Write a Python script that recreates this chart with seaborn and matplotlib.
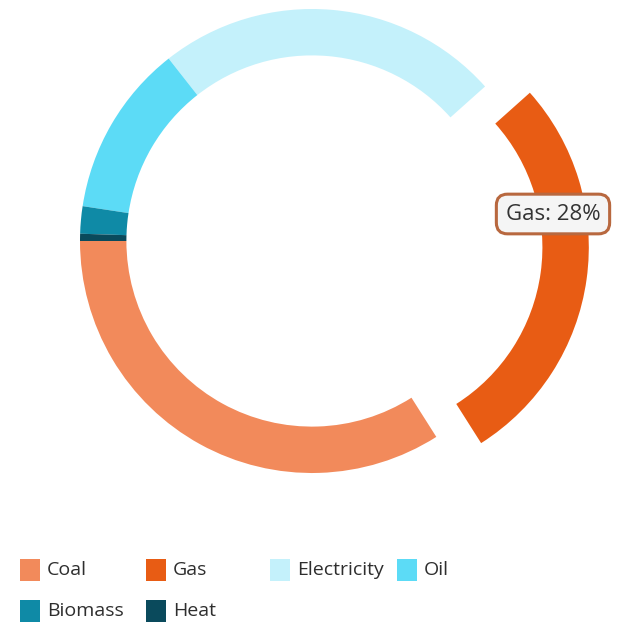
import matplotlib
matplotlib.use("Agg")
import matplotlib.pyplot as plt
from matplotlib.patches import Rectangle
import seaborn as sns

sns.set_style("white")
plt.rcParams["font.family"] = ["Open Sans", "DejaVu Sans"]

# ── data ────────────────────────────────────────────────────────────────────
labels = ["Coal", "Gas", "Electricity", "Oil", "Biomass", "Heat"]
shares = [34, 27.6, 24, 12, 1.9, 0.5]
colors = ["#F28A5B", "#E85C14", "#C4F1FB", "#5CDBF6", "#0F8AA6", "#0A4A5C"]
explode = [0, 0.195, 0, 0, 0, 0]
tooltip = "Gas: 28%"

W, H, R = 620, 623, 232          # figure pixels, ring radius in pixels
CX, CY = 312, 241                # ring centre (pixels from top-left)

fig = plt.figure(figsize=(W / 100, H / 100), dpi=100)
ax = fig.add_axes([0, 0, 1, 1])
ax.pie(shares, colors=colors, explode=explode, startangle=180,
       counterclock=True, radius=1,
       wedgeprops=dict(width=0.2, linewidth=0))
ax.set_xlim(-CX / R, (W - CX) / R)
ax.set_ylim(-(H - CY) / R, CY / R)
ax.set_aspect("auto")
ax.axis("off")

# tooltip box
ax.text((553 - CX) / R, (CY - 214) / R, tooltip, ha="center", va="center",
        fontsize=16, color="#333333",
        bbox=dict(boxstyle="round,pad=0.42,rounding_size=0.5",
                  facecolor="#F5F5F5", edgecolor="#B8683F", linewidth=2.2))

# legend drawn by hand (uneven column spacing in the reference)
legend_pos = [(20, 570), (146, 570), (270, 570), (397, 570), (20, 611), (146, 611)]
for (x, y), lab, col in zip(legend_pos, labels, colors):
    fig.patches.append(Rectangle((x / W, 1 - (y + 11) / H), 20 / W, 22 / H,
                                 transform=fig.transFigure, facecolor=col,
                                 edgecolor="none"))
    fig.text((x + 27) / W, 1 - y / H, lab, ha="left", va="center",
             fontsize=14, color="#2E2E2E")

fig.savefig("out.png", dpi=100)
